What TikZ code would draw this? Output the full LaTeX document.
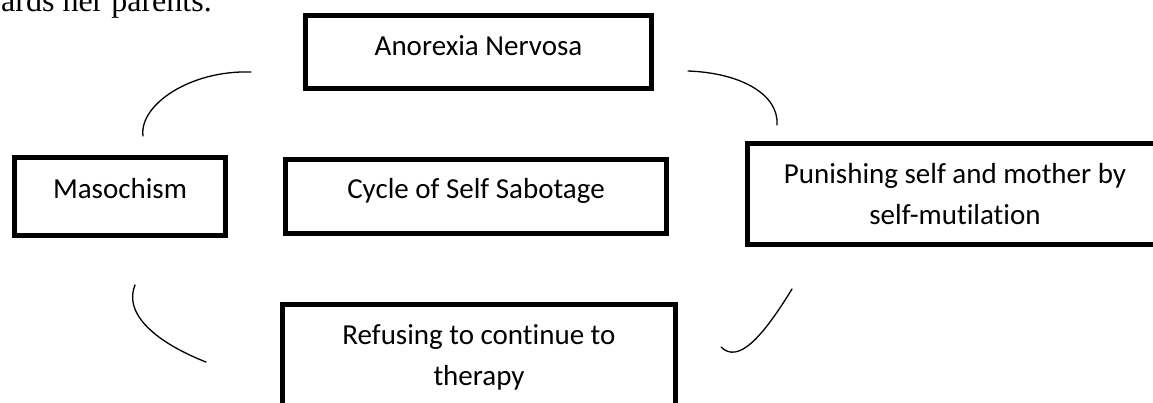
\documentclass[tikz,border=0pt]{standalone}
\usepackage{fontspec}
\setmainfont{Carlito}[Ligatures={NoCommon}]
\newfontfamily\serifpara{Liberation Serif}
\begin{document}
\begin{tikzpicture}[x=1pt,y=-1pt,
  boxnode/.style={draw=black,line width=5pt,rectangle,inner sep=0pt},
  txt/.style={font=\fontsize{29}{41}\selectfont,align=center,inner sep=0pt,anchor=base},
  curve/.style={draw=black,line width=1.3pt,line cap=round}]
\useasboundingbox (0,0) rectangle (1153,403);
\clip (0,0) rectangle (1153,403);
\fill[white] (0,0) rectangle (1153,403);
% cropped paragraph line above
\node[inner sep=0pt,anchor=base west,font=\serifpara\fontsize{32}{38}\selectfont] (para) at (1,12) {ards her parents.};
% boxes
\node[boxnode,minimum width=346pt,minimum height=73pt] (ano) at (478.5,52) {};
\node[boxnode,minimum width=211pt,minimum height=78pt] (mas) at (120,196.5) {};
\node[boxnode,minimum width=381pt,minimum height=74pt] (cyc) at (476,196.5) {};
\node[boxnode,minimum width=415.5pt,minimum height=101pt] (pun) at (955.25,194) {};
\node[boxnode,minimum width=393pt,minimum height=120pt] (ref) at (479,364.5) {};
% texts (base = baseline of the last line)
\node[txt] (anot) at (478.5,56) {Anorexia Nervosa};
\node[txt] (mast) at (120,199) {Masochism};
\node[txt] (cyct) at (476,199) {Cycle of Self Sabotage};
\node[txt] (punt) at (955,225) {Punishing self and mother by\\self-mutilation};
\node[txt] (reft) at (479,385) {Refusing to continue to\\therapy};
% connector ends
\coordinate (c1a) at (143,136);
\coordinate (c1b) at (251,72);
\coordinate (c2a) at (688,71);
\coordinate (c2b) at (777,125);
\coordinate (c3a) at (135,285);
\coordinate (c3b) at (206,362);
\coordinate (c4a) at (792,289);
\coordinate (c4b) at (721,347);
% curves
\path[curve] (c1a) .. controls (139,105) and (190,70) .. (c1b);
\path[curve] (c2a) .. controls (742,73) and (779,95) .. (c2b);
\path[curve] (c3a) .. controls (122,318) and (165,346) .. (c3b);
\path[curve] (c4a) .. controls (762,338) and (738,364) .. (c4b);
\end{tikzpicture}
\end{document}
